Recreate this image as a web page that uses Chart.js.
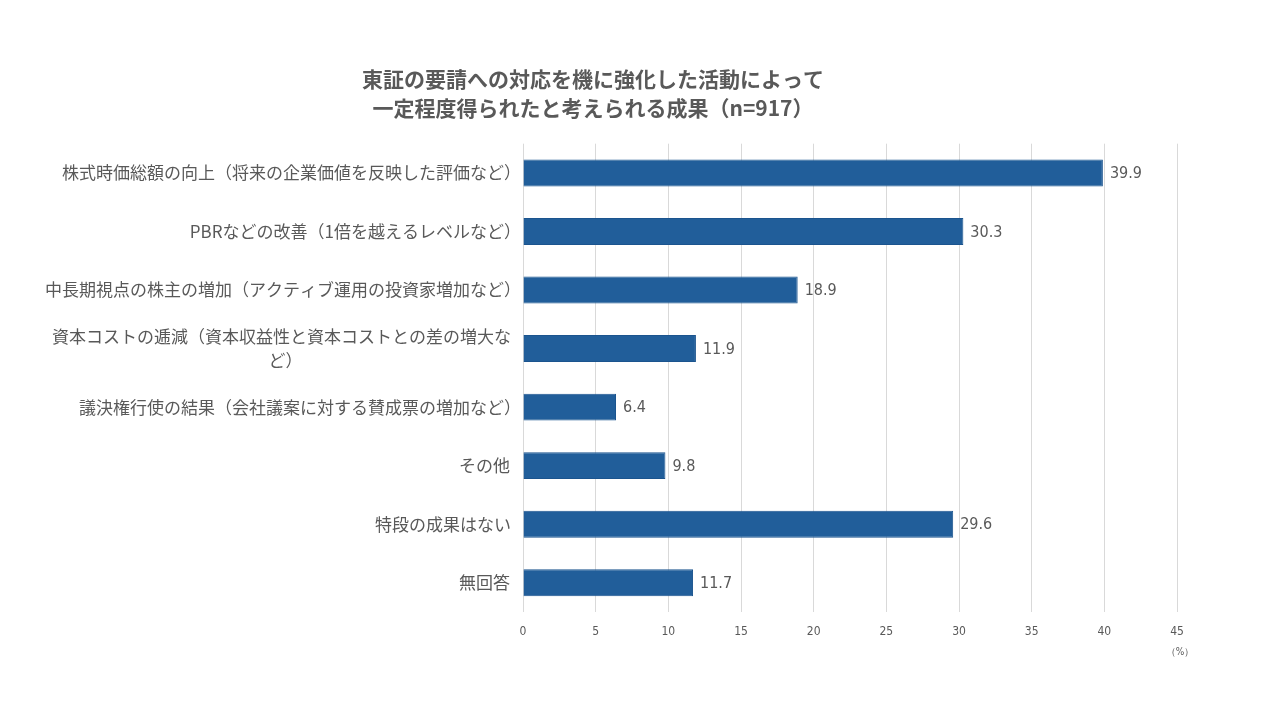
<!DOCTYPE html>
<html lang="ja">
<head>
<meta charset="utf-8">
<script src="https://cdn.jsdelivr.net/npm/chart.js@4"></script>
<style>
    html, body { margin: 0; padding: 0; background: #fff; }
    #wrap { width: 1280px; height: 719px; }
</style>
</head>
<body>
<div id="wrap"><canvas id="result-chart"></canvas></div>
<script>
const categories = [
    '株式時価総額の向上（将来の企業価値を反映した評価など）',
    'PBRなどの改善（1倍を越えるレベルなど）',
    '中長期視点の株主の増加（アクティブ運用の投資家増加など）',
    ['資本コストの逓減（資本収益性と資本コストとの差の増大な', 'ど）'],
    '議決権行使の結果（会社議案に対する賛成票の増加など）',
    'その他',
    '特段の成果はない',
    '無回答'
];
const shares = [39.9, 30.3, 18.9, 11.9, 6.4, 9.8, 29.6, 11.7];
const axisMax = 45;
const axisStep = 5;
const titleLines = ['東証の要請への対応を機に強化した活動によって', '一定程度得られたと考えられる成果（n=917）'];
const unitLabel = '（%）';

const textGray = '#595959';
const jpFont = '"Noto Sans CJK JP", "Noto Sans", sans-serif';
const numFont = '"Liberation Sans Narrow", "DejaVu Sans Condensed", "Roboto", sans-serif';

// category labels on the left and value labels at bar ends
const labelPlugin = {
    id: 'labelPlugin',
    afterDraw(chart) {
        const ctx = chart.ctx;
        const yScale = chart.scales.y;
        const xScale = chart.scales.x;
        const meta = chart.getDatasetMeta(0);
        ctx.save();

        ctx.fillStyle = textGray;
        ctx.font = '17px ' + jpFont;
        ctx.textBaseline = 'middle';
        ctx.textAlign = 'left';
        const right = 510;
        const lineHeight = 24;
        categories.forEach((label, i) => {
            const y = yScale.getPixelForValue(i);
            const lines = Array.isArray(label) ? label : [label];
            const metrics = lines.map(l => ctx.measureText(l));
            const widths = metrics.map(m => m.actualBoundingBoxLeft + m.actualBoundingBoxRight);
            const blockW = Math.max(...widths);
            const center = right - blockW / 2;
            const top = y - (lines.length - 1) * lineHeight / 2;
            lines.forEach((line, j) => {
                const x = center - widths[j] / 2 + metrics[j].actualBoundingBoxLeft;
                ctx.fillText(line, x, top + j * lineHeight);
            });
        });

        ctx.font = '16px ' + numFont;
        meta.data.forEach((bar, i) => {
            ctx.fillText(shares[i].toFixed(1), bar.x + 7, bar.y + 1);
        });

        ctx.font = '10px ' + numFont;
        ctx.textAlign = 'center';
        ctx.fillText(unitLabel, xScale.right + 3, 652);
        ctx.restore();
    }
};

const resultCtx = document.getElementById('result-chart').getContext('2d');
const resultChart = new Chart(resultCtx, {
    type: 'bar',
    data: {
        labels: categories,
        datasets: [{
            data: shares,
            backgroundColor: '#215e9a',
            borderColor: '#1b548e',
            borderWidth: 1,
            barPercentage: 0.46,
            categoryPercentage: 1
        }]
    },
    options: {
        indexAxis: 'y',
        responsive: true,
        maintainAspectRatio: false,
        animation: false,
        layout: { padding: { left: 9, right: 103, top: 0, bottom: 77 } },
        scales: {
            x: {
                min: 0,
                max: axisMax,
                ticks: {
                    stepSize: axisStep,
                    color: textGray,
                    font: { family: numFont, size: 12 },
                    padding: 13
                },
                grid: { color: '#d9d9d9', drawTicks: false },
                border: { display: false },
                afterFit: (scale) => { scale.height = 30; }
            },
            y: {
                ticks: { display: false },
                grid: { display: false },
                border: { display: false },
                afterFit: (scale) => { scale.width = 514; }
            }
        },
        plugins: {
            legend: { display: false },
            tooltip: { enabled: false },
            title: {
                display: true,
                text: titleLines,
                color: textGray,
                font: { family: jpFont, size: 21, weight: 'bold', lineHeight: 1.35 },
                padding: { top: 65, bottom: 22 }
            }
        }
    },
    plugins: [labelPlugin]
});
</script>
</body>
</html>
